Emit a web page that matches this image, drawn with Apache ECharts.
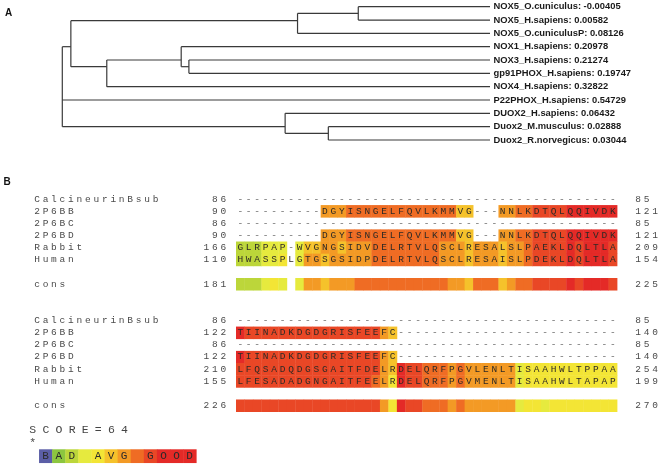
<!DOCTYPE html>
<html><head><meta charset="utf-8">
<script src="https://cdn.jsdelivr.net/npm/echarts@6/dist/echarts.min.js"></script>
<style>html,body{margin:0;padding:0;background:#fff}#c{width:662px;height:466px}</style>
</head><body><div id="c"></div>
<script>
// ================= Panel A : tree =================
const leafNames = ['NOX5_O.cuniculus','NOX5_H.sapiens','NOX5_O.cuniculusP','NOX1_H.sapiens','NOX3_H.sapiens','gp91PHOX_H.sapiens','NOX4_H.sapiens','P22PHOX_H.sapiens','DUOX2_H.sapiens','Duox2_M.musculus','Duox2_R.norvegicus'];
const leafValues = [-0.00405,0.00582,0.08126,0.20978,0.21274,0.19747,0.32822,0.54729,0.06432,0.02888,0.03044];
// internal nodes (depth: 0 = root, 100 = leaf tips; row: vertical position in leaf rows)
const nodeIds      = ['root','A','B','C','D','E','F','G','H'];
const nodeDepth    = [0, 2.0, 55.0, 69.2, 10.4, 27.8, 29.6, 52.1, 62.2];
const nodeRow      = [6, 3, 1.05, 0.5, 4.5, 4, 4.5, 9, 9.5];
const nodeChildren = [['A',7,'G'], ['B','D'], ['C',2], [0,1], ['E',6], [3,'F'], [4,5], [8,'H'], [9,10]];

// ================= Panel B : alignment =================
const seqNames = ['CalcineurinBsub','2P6BB','2P6BC','2P6BD','Rabbit','Human'];
const consName = 'cons';
const block1Start = [86,90,86,90,166,110];
const block1End   = [85,121,85,121,209,154];
const cons1Range  = [181,225];
const block1Seqs = [
  '-'.repeat(45),
  '----------DGYISNGELFQVLKMMVG---NNLKDTQLQQIVDK',
  '-'.repeat(45),
  '----------DGYISNGELFQVLKMMVG---NNLKDTQLQQIVDK',
  'GLRPAP-WVGNGSIDVDELRTVLQSCLRESALSLPAEKLDQLTLA',
  'HWASSPLGTGSGSIDPDELRTVLQSCLRESAISLPDEKLDQLTLA'
];
const block1Scores = [
  '.'.repeat(45),
  '..........'+'666'+'7777777777777'+'55'+'...'+'66'+'77'+'8888'+'999999',
  '.'.repeat(45),
  '..........'+'666'+'7777777777777'+'55'+'...'+'66'+'77'+'8888'+'999999',
  '222333'+'.'+'355665'+'666'+'77777777'+'666'+'5'+'666'+'5667'+'8888'+'989998',
  '222334'+'.'+'366566'+'666'+'77777777'+'666'+'5'+'666'+'5667'+'8888'+'989998'
];
const cons1Scores = '222343'+'.'+'366566'+'6'+'77777777777'+'66'+'5'+'777'+'5677'+'8888'+'989998';

const block2Start = [86,122,86,122,210,155];
const block2End   = [85,140,85,140,254,199];
const cons2Range  = [226,270];
const block2Seqs = [
  '-'.repeat(45),
  'TIINADKDGDGRISFEEFC'+'-'.repeat(26),
  '-'.repeat(45),
  'TIINADKDGDGRISFEEFC'+'-'.repeat(26),
  'LFQSADQDGSGAITFDELRDELQRFPGVLENLTISAAHWLTPPAA',
  'LFESADADGNGAITFEELRDELQRFPGVMENLTISAAHWLTAPAP'
];
const block2Scores = [
  '.'.repeat(45),
  '9'+'8888888888888888'+'65'+'.'.repeat(26),
  '.'.repeat(45),
  '9'+'8888888888888888'+'65'+'.'.repeat(26),
  '88888888888888888'+'65'+'9'+'88'+'777'+'6'+'7'+'666'+'666'+'3'+'44444444444',
  '8888888888888888'+'7'+'64'+'9'+'88'+'777'+'6'+'7'+'666666'+'3'+'44444444444'
];
const cons2Scores = '88888888888888888'+'64'+'9'+'88'+'777'+'6'+'7'+'666666'+'3'+'44'+'3'+'44444444';

const scoreText = 'SCORE=64';
const legendText = 'BAD AVG GOOD';
const legendScores = [0,1,2,3,4,5,6,7,8,9,9,9];
const scoreColors = ['#5b5ea6','#8cc63f','#bcd63a','#e6ea3e','#f3e535','#f5c22b','#f39a25','#ef6c24','#e94726','#e42a27'];

// ---------- build tree segments ----------
const segs = [];
function childPos(ch){
  if (typeof ch === 'number') return [100, ch];
  const k = nodeIds.indexOf(ch); return [nodeDepth[k], nodeRow[k]];
}
nodeIds.forEach((id,k)=>{
  const pts = nodeChildren[k].map(childPos);
  const rows = pts.map(p=>p[1]);
  segs.push([nodeDepth[k], Math.min(...rows), nodeDepth[k], Math.max(...rows)]);
  pts.forEach(p=>segs.push([nodeDepth[k], p[1], p[0], p[1]]));
});
const leafData = leafNames.map((n,i)=>[100, i]);

// ---------- build alignment texts and cells ----------
const texts = []; const cells = [];
const styles = {
  name: {fontSize: 9.5, fill: '#4a4a4a'},
  res:  {fontSize: 9.5, fill: '#2e2a26'},
  gap:  {fontSize: 9.5, fill: '#6a6a6a'},
  big:  {fontSize: 11.5, fill: '#444'},
  leg:  {fontSize: 11, fill: '#2a2a2a'}
};
function putString(str, firstCol, row, kind){
  for (let k=0;k<str.length;k++) if (str[k] !== ' ') texts.push({v: firstCol+k+0.5, row, ch: str[k], kind});
}
function addRow(name, start, seq, end, scores, row){
  putString(name, -24, row, 'name');
  const s = String(start); putString(s, -1 - s.length, row, 'name');
  if (seq) for (let k=0;k<seq.length;k++) texts.push({v:k+0.5, row, ch:seq[k], kind: seq[k]==='-' ? 'gap':'res'});
  putString(String(end), 47, row, 'name');
  for (let k=0;k<scores.length;k++) if (scores[k] !== '.') cells.push([k+0.5, row, +scores[k], 1, 1]);
}
function addBlock(starts, ends, seqs, scores, consRange, consScores, r0){
  seqNames.forEach((n,i)=>addRow(n, starts[i], seqs[i], ends[i], scores[i], r0+i));
  addRow(consName, consRange[0], null, consRange[1], consScores, r0+7);
}
addBlock(block1Start, block1End, block1Seqs, block1Scores, cons1Range, cons1Scores, 0);
addBlock(block2Start, block2End, block2Seqs, block2Scores, cons2Range, cons2Scores, 10);
const bigPitch = 1.547;
for (let k=0;k<scoreText.length;k++) texts.push({v:-24 + k*bigPitch, row:19, ch:scoreText[k], kind:'big'});
texts.push({v:-24, row:20.05, ch:'*', kind:'big'});
for (let k=0;k<legendText.length;k++){
  const v = -22.49 + k*bigPitch;
  cells.push([v, 21.15, legendScores[k], bigPitch, 1.1]);
  if (legendText[k] !== ' ') texts.push({v, row:21.15, ch:legendText[k], kind:'leg'});
}

const chart = echarts.init(document.getElementById('c'));
chart.setOption({
  animation: false,
  backgroundColor: '#fff',
  graphic: [
    {type:'text', left:5, top:8, style:{text:'A', fontSize:10, fontWeight:'bold', fontFamily:'Liberation Sans', fill:'#111'}},
    {type:'text', left:3.5, top:177, style:{text:'B', fontSize:10, fontWeight:'bold', fontFamily:'Liberation Sans', fill:'#111'}}
  ],
  grid: [
    {left:62.3, top:6.7, width:427.7, height:133.3},
    {left:236, top:199, width:381, height:243}
  ],
  xAxis: [
    {type:'value', gridIndex:0, min:0, max:100, show:false},
    {type:'value', gridIndex:1, min:0, max:45, show:false}
  ],
  yAxis: [
    {type:'value', gridIndex:0, min:0, max:10, inverse:true, show:false},
    {type:'value', gridIndex:1, min:0, max:20, inverse:true, show:false}
  ],
  series: [
    {
      type:'custom', xAxisIndex:0, yAxisIndex:0, clip:false, silent:true, data: segs,
      renderItem(params, api){
        const a = api.coord([api.value(0), api.value(1)]);
        const b = api.coord([api.value(2), api.value(3)]);
        return {type:'line', shape:{x1:a[0], y1:a[1], x2:b[0], y2:b[1]}, style:{stroke:'#3a3a3a', lineWidth:1.2}};
      }
    },
    {
      type:'custom', xAxisIndex:0, yAxisIndex:0, clip:false, silent:true, data: leafData,
      renderItem(params, api){
        const p = api.coord([api.value(0), api.value(1)]);
        const i = params.dataIndex;
        return {type:'text', x:p[0]+3.5, y:p[1], style:{text: leafNames[i] + ': ' + leafValues[i].toFixed(5),
          fontSize:9.4, fontWeight:'bold', fontFamily:'Liberation Sans', fill:'#1a1a1a', align:'left', verticalAlign:'middle'}};
      }
    },
    {
      type:'custom', xAxisIndex:1, yAxisIndex:1, clip:false, silent:true, data: cells,
      renderItem(params, api){
        const c = api.coord([api.value(0), api.value(1)]);
        const s = api.size([api.value(3), api.value(4)]);
        return {type:'rect', shape:{x:c[0]-s[0]/2, y:c[1]-s[1]/2, width:s[0]+0.4, height:s[1]+0.4},
          style:{fill: scoreColors[api.value(2)]}};
      }
    },
    {
      type:'custom', xAxisIndex:1, yAxisIndex:1, clip:false, silent:true, data: texts.map(t=>[t.v, t.row]),
      renderItem(params, api){
        const t = texts[params.dataIndex];
        const p = api.coord([api.value(0), api.value(1)]);
        const st = styles[t.kind];
        return {type:'text', x:p[0], y:p[1], style:{text:t.ch, fontSize:st.fontSize, fontFamily:'Liberation Mono',
          fill:st.fill, align:'center', verticalAlign:'middle'}};
      }
    }
  ]
});
</script></body></html>
